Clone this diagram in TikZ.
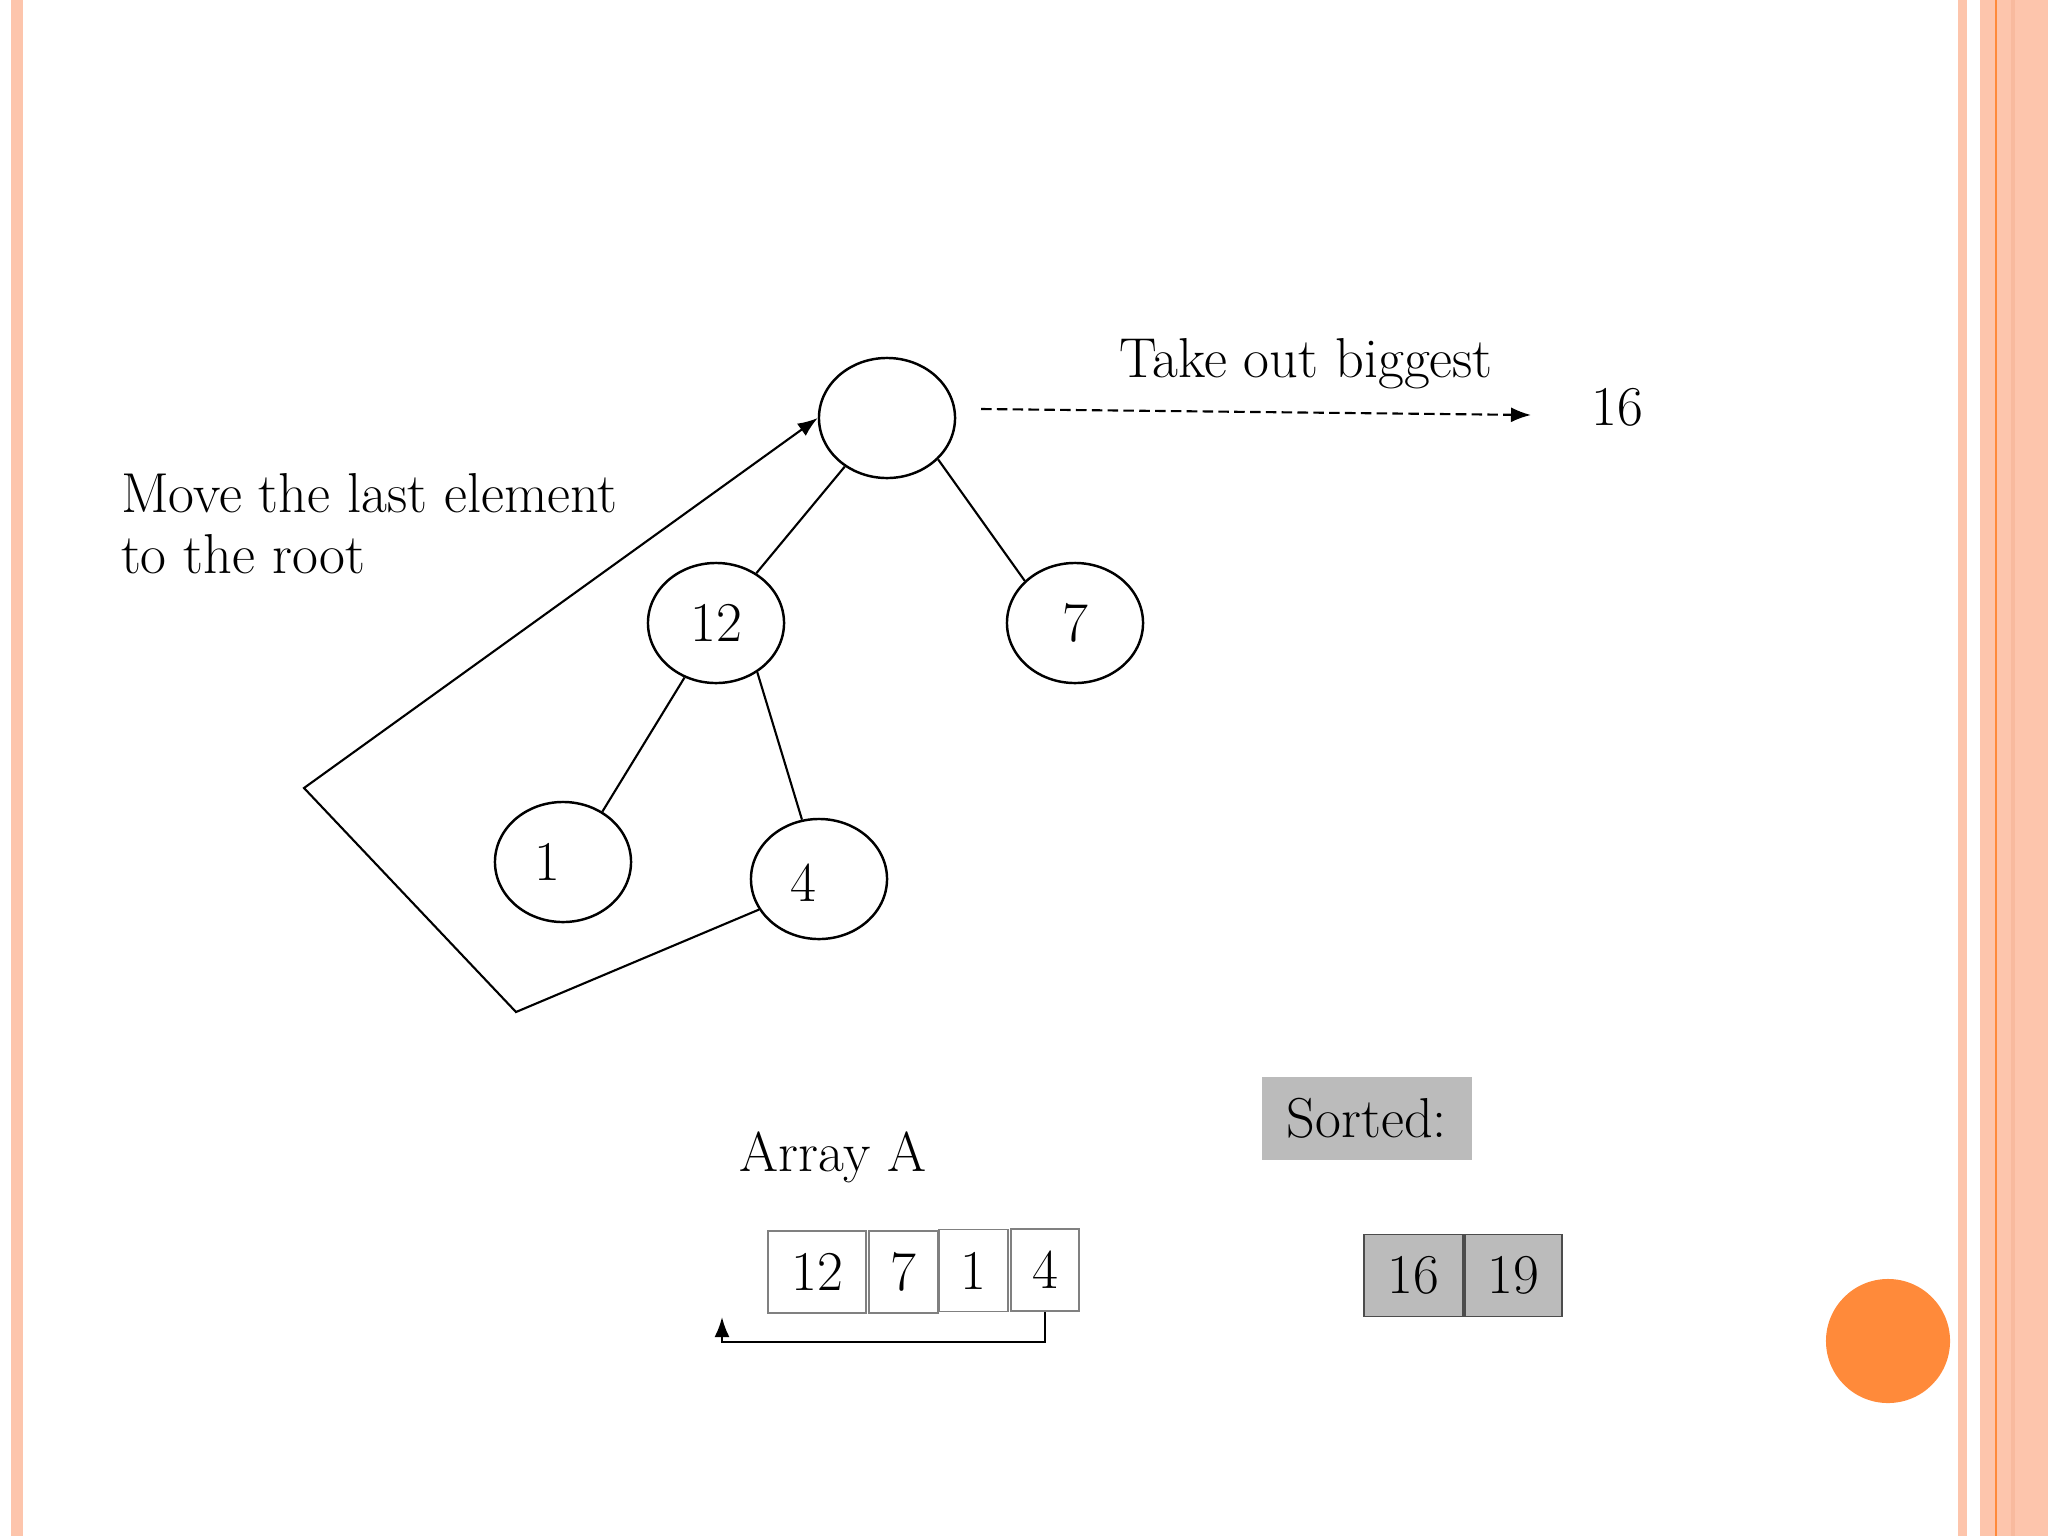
\documentclass[tikz,border=0pt]{standalone}
\usepackage{tikz}
\usetikzlibrary{shapes.geometric}
\usetikzlibrary{arrows.meta}
\definecolor{peach}{RGB}{253,197,172}
\definecolor{peachdark}{RGB}{248,186,158}
\definecolor{tangerine}{RGB}{255,138,58}
\definecolor{sortgray}{RGB}{187,187,187}
\tikzstyle{num}=[font=\fontsize{16}{19}\selectfont]
\tikzstyle{txt}=[font=\fontsize{16}{17.4}\selectfont, inner sep=0pt]
\tikzstyle{vx}=[draw,ellipse,num,minimum width=1.36cm,minimum height=1.2cm,inner sep=0pt,line width=0.7pt]
\tikzstyle{cell}=[draw=black!50,rectangle,num,minimum height=0.82cm,inner sep=0pt,line width=0.5pt]
\tikzstyle{done}=[cell,fill=sortgray,draw=black!70]
\tikzstyle{tip}=[-{Latex[length=0.2cm,width=0.15cm]}]

\begin{document}
\begin{tikzpicture}[x=0.01cm,y=-0.01cm,line width=0.6pt]
\useasboundingbox (0,0) rectangle (2048,1536);
% slide border
\fill[peach] (11,0) rectangle (23,1536);
\fill[peach] (1958,0) rectangle (1967,1536);
\fill[peach] (1980,0) rectangle (2048,1536);
\fill[peachdark] (2011,0) rectangle (2015,1536);
\draw[tangerine, line width=0.6pt] (1996,0) -- (1996,1536);
\fill[tangerine] (1888,1341) circle (0.62cm);

% heap
\node [vx] (root) at (887,418) {};
\node [vx] (n12) at (716,623) {12};
\node [vx] (n7) at (1075,623) {7};
\node [vx, label={[num,xshift=-0.16cm]center:1}] (n1) at (563,862) {};
\node [vx, label={[num,xshift=-0.16cm,yshift=-0.04cm]center:4}] (n4) at (819,879) {};
\draw (root.229) -- (n12.51);
\draw (root.321) -- (n7.140);
\draw (n12.240) -- (n1.52);
\draw (n12.310) -- (n4.106);

% last element to the root
\coordinate (low) at (516,1012);
\coordinate (left) at (304,788);
\draw [tip] (n4.207) -- (low) -- (left) -- (root.west);
\node [txt, align=left, anchor=west] (move) at (120,524) {Move the last element\\to the root};

% take out biggest
\coordinate (outstart) at (981,409);
\coordinate (outend) at (1531,415);
\draw [tip, dash pattern=on 3pt off 1.5pt] (outstart) -- (outend);
\node [txt] (take) at (1306,364) {Take out biggest};
\node [txt] (big) at (1617,407) {16};

% array
\node [txt] (arr) at (833,1157) {Array A};
\node [cell, minimum width=0.98cm] (a1) at (817,1272) {12};
\node [cell, minimum width=0.69cm] (a2) at (903.5,1272) {7};
\node [cell, minimum width=0.69cm] (a3) at (973.5,1270.5) {1};
\node [cell, minimum width=0.68cm] (a4) at (1045,1270) {4};
\coordinate (back) at (722,1317);
\draw [tip] (a4.south) -- ++(0,30) -| (back);

% sorted part
\node [txt, fill=sortgray, minimum width=2.1cm, minimum height=0.83cm] (sorted) at (1367,1118.5) {Sorted:};
\node [done, minimum width=0.99cm] (s1) at (1413.5,1275.5) {16};
\node [done, minimum width=0.97cm] (s2) at (1513.5,1275.5) {19};
\end{tikzpicture}
\end{document}
